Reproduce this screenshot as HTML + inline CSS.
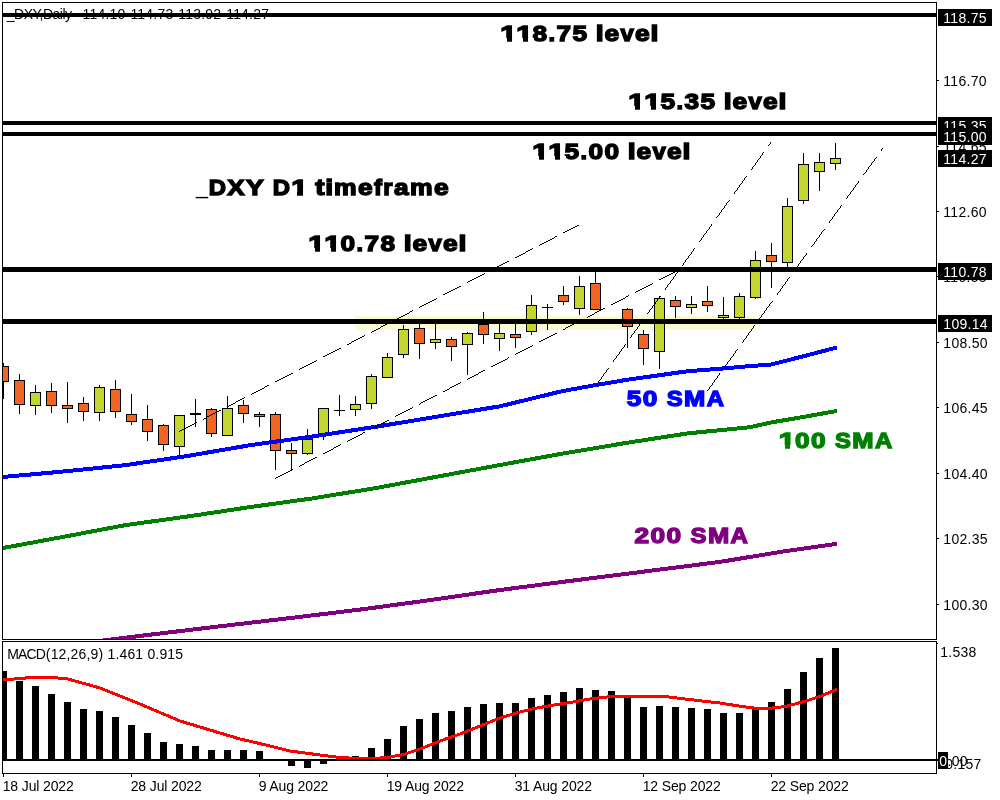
<!DOCTYPE html>
<html lang="en"><head><meta charset="utf-8"><title>_DXY Daily chart</title>
<style>html,body{margin:0;padding:0;background:#fff;overflow:hidden}svg{display:block}text{font-family:"Liberation Sans",sans-serif;font-size:14px;fill:#000;white-space:pre}.c rect,.m rect,.f rect,.f line{shape-rendering:crispEdges}.big{font-family:"Liberation Sans",sans-serif;font-weight:bold;font-size:22.6px;stroke-width:1.4px;stroke-linejoin:miter}.w{fill:#fff}</style></head><body>
<svg width="1000" height="800" viewBox="0 0 1000 800">
<rect width="1000" height="800" fill="#fff"/>
<defs><clipPath id="cm"><rect x="3" y="3" width="933" height="636"/></clipPath><clipPath id="cd"><rect x="3" y="642" width="933" height="131"/></clipPath></defs>
<g clip-path="url(#cm)">
<rect x="355" y="316" width="400" height="14" fill="#FAFAD2" shape-rendering="crispEdges"/>
<text y="19"><tspan x="6.8" letter-spacing="-.5">_DXY,Daily</tspan>  <tspan x="82.6" letter-spacing=".2">114.10</tspan> <tspan x="130.4" letter-spacing=".2">114.73</tspan> <tspan x="178.3" letter-spacing=".2">113.92</tspan> <tspan x="226.2" letter-spacing=".2">114.27</tspan></text>
<g class="c">
<rect x="3" y="363" width="1" height="36" fill="#000"/>
<rect x="-2" y="366" width="11" height="16" fill="#000"/>
<rect x="-1" y="367" width="9" height="14" fill="#F16421"/>
<rect x="19" y="374" width="1" height="40" fill="#000"/>
<rect x="14" y="380" width="11" height="25" fill="#000"/>
<rect x="15" y="381" width="9" height="23" fill="#F16421"/>
<rect x="35" y="385" width="1" height="30" fill="#000"/>
<rect x="30" y="392" width="11" height="14" fill="#000"/>
<rect x="31" y="393" width="9" height="12" fill="#C3D62D"/>
<rect x="51" y="383" width="1" height="30" fill="#000"/>
<rect x="46" y="391" width="11" height="15" fill="#000"/>
<rect x="47" y="392" width="9" height="13" fill="#F16421"/>
<rect x="67" y="382" width="1" height="41" fill="#000"/>
<rect x="62" y="405" width="11" height="4" fill="#000"/>
<rect x="63" y="406" width="9" height="2" fill="#F16421"/>
<rect x="83" y="397" width="1" height="24" fill="#000"/>
<rect x="78" y="403" width="11" height="9" fill="#000"/>
<rect x="79" y="404" width="9" height="7" fill="#F16421"/>
<rect x="99" y="385" width="1" height="36" fill="#000"/>
<rect x="94" y="387" width="11" height="26" fill="#000"/>
<rect x="95" y="388" width="9" height="24" fill="#C3D62D"/>
<rect x="115" y="380" width="1" height="38" fill="#000"/>
<rect x="110" y="389" width="11" height="23" fill="#000"/>
<rect x="111" y="390" width="9" height="21" fill="#F16421"/>
<rect x="131" y="394" width="1" height="31" fill="#000"/>
<rect x="126" y="414" width="11" height="8" fill="#000"/>
<rect x="127" y="415" width="9" height="6" fill="#F16421"/>
<rect x="147" y="405" width="1" height="36" fill="#000"/>
<rect x="142" y="419" width="11" height="13" fill="#000"/>
<rect x="143" y="420" width="9" height="11" fill="#F16421"/>
<rect x="163" y="424" width="1" height="27" fill="#000"/>
<rect x="158" y="425" width="11" height="20" fill="#000"/>
<rect x="159" y="426" width="9" height="18" fill="#F16421"/>
<rect x="179" y="415" width="1" height="40" fill="#000"/>
<rect x="174" y="415" width="11" height="32" fill="#000"/>
<rect x="175" y="416" width="9" height="30" fill="#C3D62D"/>
<rect x="195" y="399" width="1" height="28" fill="#000"/>
<rect x="190" y="413" width="11" height="2" fill="#000"/>
<rect x="211" y="408" width="1" height="29" fill="#000"/>
<rect x="206" y="409" width="11" height="25" fill="#000"/>
<rect x="207" y="410" width="9" height="23" fill="#F16421"/>
<rect x="227" y="396" width="1" height="40" fill="#000"/>
<rect x="222" y="408" width="11" height="28" fill="#000"/>
<rect x="223" y="409" width="9" height="26" fill="#C3D62D"/>
<rect x="243" y="400" width="1" height="23" fill="#000"/>
<rect x="238" y="405" width="11" height="9" fill="#000"/>
<rect x="239" y="406" width="9" height="7" fill="#F16421"/>
<rect x="259" y="412" width="1" height="15" fill="#000"/>
<rect x="254" y="414" width="11" height="3" fill="#000"/>
<rect x="255" y="415" width="9" height="1" fill="#F16421"/>
<rect x="275" y="412" width="1" height="58" fill="#000"/>
<rect x="270" y="414" width="11" height="37" fill="#000"/>
<rect x="271" y="415" width="9" height="35" fill="#F16421"/>
<rect x="291" y="443" width="1" height="27" fill="#000"/>
<rect x="286" y="450" width="11" height="4" fill="#000"/>
<rect x="287" y="451" width="9" height="2" fill="#F16421"/>
<rect x="307" y="429" width="1" height="26" fill="#000"/>
<rect x="302" y="439" width="11" height="15" fill="#000"/>
<rect x="303" y="440" width="9" height="13" fill="#C3D62D"/>
<rect x="323" y="408" width="1" height="32" fill="#000"/>
<rect x="318" y="408" width="11" height="27" fill="#000"/>
<rect x="319" y="409" width="9" height="25" fill="#C3D62D"/>
<rect x="339" y="395" width="1" height="21" fill="#000"/>
<rect x="334" y="410" width="11" height="1" fill="#000"/>
<rect x="355" y="396" width="1" height="20" fill="#000"/>
<rect x="350" y="404" width="11" height="6" fill="#000"/>
<rect x="351" y="405" width="9" height="4" fill="#C3D62D"/>
<rect x="371" y="374" width="1" height="35" fill="#000"/>
<rect x="366" y="376" width="11" height="28" fill="#000"/>
<rect x="367" y="377" width="9" height="26" fill="#C3D62D"/>
<rect x="387" y="353" width="1" height="25" fill="#000"/>
<rect x="382" y="357" width="11" height="21" fill="#000"/>
<rect x="383" y="358" width="9" height="19" fill="#C3D62D"/>
<rect x="403" y="325" width="1" height="33" fill="#000"/>
<rect x="398" y="329" width="11" height="26" fill="#000"/>
<rect x="399" y="330" width="9" height="24" fill="#C3D62D"/>
<rect x="419" y="324" width="1" height="35" fill="#000"/>
<rect x="414" y="328" width="11" height="16" fill="#000"/>
<rect x="415" y="329" width="9" height="14" fill="#F16421"/>
<rect x="435" y="324" width="1" height="25" fill="#000"/>
<rect x="430" y="339" width="11" height="4" fill="#000"/>
<rect x="431" y="340" width="9" height="2" fill="#C3D62D"/>
<rect x="451" y="337" width="1" height="24" fill="#000"/>
<rect x="446" y="339" width="11" height="8" fill="#000"/>
<rect x="447" y="340" width="9" height="6" fill="#F16421"/>
<rect x="467" y="332" width="1" height="43" fill="#000"/>
<rect x="462" y="333" width="11" height="12" fill="#000"/>
<rect x="463" y="334" width="9" height="10" fill="#C3D62D"/>
<rect x="483" y="312" width="1" height="32" fill="#000"/>
<rect x="478" y="324" width="11" height="11" fill="#000"/>
<rect x="479" y="325" width="9" height="9" fill="#F16421"/>
<rect x="499" y="324" width="1" height="27" fill="#000"/>
<rect x="494" y="333" width="11" height="6" fill="#000"/>
<rect x="495" y="334" width="9" height="4" fill="#C3D62D"/>
<rect x="515" y="324" width="1" height="24" fill="#000"/>
<rect x="510" y="334" width="11" height="4" fill="#000"/>
<rect x="511" y="335" width="9" height="2" fill="#F16421"/>
<rect x="531" y="295" width="1" height="40" fill="#000"/>
<rect x="526" y="305" width="11" height="27" fill="#000"/>
<rect x="527" y="306" width="9" height="25" fill="#C3D62D"/>
<rect x="547" y="304" width="1" height="26" fill="#000"/>
<rect x="542" y="307" width="11" height="1" fill="#000"/>
<rect x="563" y="286" width="1" height="19" fill="#000"/>
<rect x="558" y="295" width="11" height="7" fill="#000"/>
<rect x="559" y="296" width="9" height="5" fill="#F16421"/>
<rect x="579" y="276" width="1" height="39" fill="#000"/>
<rect x="574" y="286" width="11" height="23" fill="#000"/>
<rect x="575" y="287" width="9" height="21" fill="#C3D62D"/>
<rect x="595" y="272" width="1" height="38" fill="#000"/>
<rect x="590" y="283" width="11" height="27" fill="#000"/>
<rect x="591" y="284" width="9" height="25" fill="#F16421"/>
<rect x="627" y="308" width="1" height="40" fill="#000"/>
<rect x="622" y="309" width="11" height="18" fill="#000"/>
<rect x="623" y="310" width="9" height="16" fill="#F16421"/>
<rect x="643" y="330" width="1" height="35" fill="#000"/>
<rect x="638" y="334" width="11" height="15" fill="#000"/>
<rect x="639" y="335" width="9" height="13" fill="#F16421"/>
<rect x="659" y="296" width="1" height="73" fill="#000"/>
<rect x="654" y="298" width="11" height="54" fill="#000"/>
<rect x="655" y="299" width="9" height="52" fill="#C3D62D"/>
<rect x="675" y="296" width="1" height="22" fill="#000"/>
<rect x="670" y="300" width="11" height="7" fill="#000"/>
<rect x="671" y="301" width="9" height="5" fill="#F16421"/>
<rect x="691" y="296" width="1" height="18" fill="#000"/>
<rect x="686" y="304" width="11" height="4" fill="#000"/>
<rect x="687" y="305" width="9" height="2" fill="#C3D62D"/>
<rect x="707" y="286" width="1" height="26" fill="#000"/>
<rect x="702" y="301" width="11" height="5" fill="#000"/>
<rect x="703" y="302" width="9" height="3" fill="#F16421"/>
<rect x="723" y="297" width="1" height="22" fill="#000"/>
<rect x="718" y="315" width="11" height="3" fill="#000"/>
<rect x="719" y="316" width="9" height="1" fill="#C3D62D"/>
<rect x="739" y="293" width="1" height="26" fill="#000"/>
<rect x="734" y="296" width="11" height="22" fill="#000"/>
<rect x="735" y="297" width="9" height="20" fill="#C3D62D"/>
<rect x="755" y="251" width="1" height="48" fill="#000"/>
<rect x="750" y="260" width="11" height="38" fill="#000"/>
<rect x="751" y="261" width="9" height="36" fill="#C3D62D"/>
<rect x="771" y="243" width="1" height="45" fill="#000"/>
<rect x="766" y="255" width="11" height="7" fill="#000"/>
<rect x="767" y="256" width="9" height="5" fill="#F16421"/>
<rect x="787" y="198" width="1" height="69" fill="#000"/>
<rect x="782" y="206" width="11" height="57" fill="#000"/>
<rect x="783" y="207" width="9" height="55" fill="#C3D62D"/>
<rect x="803" y="153" width="1" height="51" fill="#000"/>
<rect x="798" y="164" width="11" height="37" fill="#000"/>
<rect x="799" y="165" width="9" height="35" fill="#C3D62D"/>
<rect x="819" y="153" width="1" height="38" fill="#000"/>
<rect x="814" y="162" width="11" height="10" fill="#000"/>
<rect x="815" y="163" width="9" height="8" fill="#C3D62D"/>
<rect x="835" y="143" width="1" height="27" fill="#000"/>
<rect x="830" y="158" width="11" height="6" fill="#000"/>
<rect x="831" y="159" width="9" height="4" fill="#C3D62D"/>
</g>
<polyline points="3,477 62.5,471.6 125,465.2 187.5,456 250,445.2 312.5,436.5 375,426.9 437.5,416.6 500,406.3 562.5,391.1 595,385.2 625,380.1 687.5,371.25 723.75,368.4 750,366.1 771.25,364.5 797.5,357.8 835,348" fill="none" stroke="#0000FF" stroke-width="4" stroke-linejoin="round" stroke-linecap="square" shape-rendering="crispEdges"/>
<polyline points="3,548 62.5,537 125,525.2 187.5,516.5 250,507.1 312.5,498.4 375,488.2 437.5,476.6 500,465 562.5,453.6 625,443.1 687.5,433.4 750,427.2 771.25,422.4 797.5,418 835,411.3" fill="none" stroke="#008000" stroke-width="4" stroke-linejoin="round" stroke-linecap="square" shape-rendering="crispEdges"/>
<polyline points="3,653 99.4,641 152.5,634.4 215,626.9 300,616.9 362.5,609.25 425,600.8 500,590 562.5,581.9 625,574 720,561.9 782.5,551.6 835,544.1" fill="none" stroke="#800080" stroke-width="4" stroke-linejoin="round" stroke-linecap="square" shape-rendering="crispEdges"/>
<path d="M179 431.5h1M180 430.5h2M182 429.5h2M184 428.5h2M186 427.5h2M188 426.5h2M190 425.5h2M192 424.5h2M194 423.5h2M196 422.5h1M203 419.5h1M204 418.5h2M206 417.5h1M207 416.5h2M209 415.5h2M211 414.5h2M213 413.5h2M215 412.5h2M217 411.5h2M219 410.5h2M227 406.5h2M229 405.5h2M231 404.5h2M233 403.5h2M235 402.5h1M236 401.5h2M238 400.5h2M240 399.5h2M242 398.5h2M244 397.5h1M251 394.5h1M252 393.5h2M254 392.5h2M256 391.5h2M258 390.5h2M260 389.5h2M262 388.5h2M264 387.5h1M265 386.5h2M267 385.5h2M275 381.5h2M277 380.5h2M279 379.5h2M281 378.5h2M283 377.5h2M285 376.5h2M287 375.5h2M289 374.5h2M291 373.5h2M299 369.5h1M300 368.5h2M302 367.5h2M304 366.5h2M306 365.5h2M308 364.5h2M310 363.5h2M312 362.5h2M314 361.5h2M316 360.5h1M323 356.5h2M325 355.5h2M327 354.5h2M329 353.5h2M331 352.5h2M333 351.5h2M335 350.5h2M337 349.5h2M339 348.5h2M347 344.5h2M349 343.5h2M351 342.5h1M352 341.5h2M354 340.5h2M356 339.5h2M358 338.5h2M360 337.5h2M362 336.5h2M364 335.5h1M371 332.5h1M372 331.5h2M374 330.5h2M376 329.5h2M378 328.5h2M380 327.5h1M381 326.5h2M383 325.5h2M385 324.5h2M387 323.5h2M395 319.5h2M397 318.5h2M399 317.5h2M401 316.5h2M403 315.5h2M405 314.5h2M407 313.5h2M409 312.5h1M410 311.5h2M412 310.5h1M419 307.5h1M420 306.5h2M422 305.5h2M424 304.5h2M426 303.5h2M428 302.5h2M430 301.5h2M432 300.5h2M434 299.5h2M436 298.5h1M443 294.5h2M445 293.5h2M447 292.5h2M449 291.5h2M451 290.5h2M453 289.5h2M455 288.5h2M457 287.5h2M459 286.5h2M467 282.5h1M468 281.5h2M470 280.5h2M472 279.5h2M474 278.5h2M476 277.5h2M478 276.5h2M480 275.5h2M482 274.5h2M484 273.5h1M491 270.5h1M492 269.5h2M494 268.5h2M496 267.5h1M497 266.5h2M499 265.5h2M501 264.5h2M503 263.5h2M505 262.5h2M507 261.5h2M515 257.5h2M517 256.5h2M519 255.5h2M521 254.5h2M523 253.5h2M525 252.5h1M526 251.5h2M528 250.5h2M530 249.5h2M532 248.5h1M539 245.5h1M540 244.5h2M542 243.5h2M544 242.5h2M546 241.5h2M548 240.5h2M550 239.5h2M552 238.5h2M554 237.5h1M555 236.5h2M563 232.5h2M565 231.5h2M567 230.5h2M569 229.5h2M571 228.5h2M573 227.5h2M575 226.5h2M577 225.5h2" fill="none" stroke="#000" stroke-width="1" shape-rendering="crispEdges"/>
<path d="M275 478.5h1M276 477.5h2M278 476.5h2M280 475.5h2M282 474.5h2M284 473.5h2M286 472.5h2M288 471.5h2M290 470.5h2M292 469.5h1M299 466.5h1M300 465.5h2M302 464.5h2M304 463.5h1M305 462.5h2M307 461.5h2M309 460.5h2M311 459.5h2M313 458.5h2M315 457.5h2M323 453.5h2M325 452.5h2M327 451.5h2M329 450.5h2M331 449.5h2M333 448.5h1M334 447.5h2M336 446.5h2M338 445.5h2M340 444.5h1M347 441.5h1M348 440.5h2M350 439.5h2M352 438.5h2M354 437.5h2M356 436.5h2M358 435.5h2M360 434.5h2M362 433.5h1M363 432.5h2M371 428.5h2M373 427.5h2M375 426.5h2M377 425.5h2M379 424.5h2M381 423.5h2M383 422.5h2M385 421.5h2M387 420.5h2M395 416.5h1M396 415.5h2M398 414.5h2M400 413.5h2M402 412.5h2M404 411.5h2M406 410.5h2M408 409.5h2M410 408.5h2M412 407.5h1M419 404.5h1M420 403.5h1M421 402.5h2M423 401.5h2M425 400.5h2M427 399.5h2M429 398.5h2M431 397.5h2M433 396.5h2M435 395.5h2M443 391.5h2M445 390.5h2M447 389.5h2M449 388.5h1M450 387.5h2M452 386.5h2M454 385.5h2M456 384.5h2M458 383.5h2M460 382.5h1M467 379.5h1M468 378.5h2M470 377.5h2M472 376.5h2M474 375.5h2M476 374.5h2M478 373.5h1M479 372.5h2M481 371.5h2M483 370.5h2M491 366.5h2M493 365.5h2M495 364.5h2M497 363.5h2M499 362.5h2M501 361.5h2M503 360.5h2M505 359.5h2M507 358.5h1M508 357.5h1M515 354.5h1M516 353.5h2M518 352.5h2M520 351.5h2M522 350.5h2M524 349.5h2M526 348.5h2M528 347.5h2M530 346.5h2M532 345.5h1M539 341.5h2M541 340.5h2M543 339.5h2M545 338.5h2M547 337.5h2M549 336.5h2M551 335.5h2M553 334.5h2M555 333.5h2M563 329.5h2M565 328.5h1M566 327.5h2M568 326.5h2M570 325.5h2M572 324.5h2M574 323.5h2M576 322.5h2M578 321.5h2M580 320.5h1M587 317.5h1M588 316.5h2M590 315.5h2M592 314.5h2M594 313.5h1M595 312.5h2M597 311.5h2M599 310.5h2M601 309.5h2M603 308.5h2M611 304.5h2M613 303.5h2M615 302.5h2M617 301.5h2M619 300.5h2M621 299.5h2M623 298.5h2M625 297.5h1M626 296.5h2M628 295.5h1M635 292.5h1M636 291.5h2M638 290.5h2M640 289.5h2M642 288.5h2M644 287.5h2M646 286.5h2M648 285.5h2M650 284.5h2M652 283.5h1M659 279.5h2M661 278.5h2M663 277.5h2M665 276.5h2M667 275.5h2M669 274.5h2M671 273.5h2M673 272.5h2M675 271.5h2" fill="none" stroke="#000" stroke-width="1" shape-rendering="crispEdges"/>
<path d="M596.5 386v-2M597.5 384v-1M598.5 383v-2M599.5 381v-1M600.5 380v-1M601.5 379v-2M602.5 377v-1M603.5 376v-2M604.5 374v-1M605.5 373v-1M606.5 372v-2M607.5 370v-1M608.5 369v-1M613.5 362v-2M614.5 360v-1M615.5 359v-1M616.5 358v-2M617.5 356v-1M618.5 355v-1M619.5 354v-2M620.5 352v-1M621.5 351v-2M622.5 349v-1M623.5 348v-1M624.5 347v-2M625.5 345v-1M630.5 338v-1M631.5 337v-2M632.5 335v-1M633.5 334v-1M634.5 333v-2M635.5 331v-1M636.5 330v-1M637.5 329v-2M638.5 327v-1M639.5 326v-2M640.5 324v-1M641.5 323v-1M642.5 322v-2M647.5 314v-1M648.5 313v-1M649.5 312v-2M650.5 310v-1M651.5 309v-1M652.5 308v-2M653.5 306v-1M654.5 305v-1M655.5 304v-2M656.5 302v-1M657.5 301v-2M658.5 299v-1M659.5 298v-1M660.5 297v-1M665.5 290v-2M666.5 288v-1M667.5 287v-2M668.5 285v-1M669.5 284v-1M670.5 283v-2M671.5 281v-1M672.5 280v-1M673.5 279v-2M674.5 277v-1M675.5 276v-2M676.5 274v-1M677.5 273v-1M682.5 266v-1M683.5 265v-2M684.5 263v-1M685.5 262v-2M686.5 260v-1M687.5 259v-1M688.5 258v-2M689.5 256v-1M690.5 255v-1M691.5 254v-2M692.5 252v-1M693.5 251v-2M694.5 249v-1M699.5 242v-1M700.5 241v-1M701.5 240v-2M702.5 238v-1M703.5 237v-2M704.5 235v-1M705.5 234v-1M706.5 233v-2M707.5 231v-1M708.5 230v-1M709.5 229v-2M710.5 227v-1M711.5 226v-2M716.5 218v-1M717.5 217v-1M718.5 216v-1M719.5 215v-2M720.5 213v-1M721.5 212v-2M722.5 210v-1M723.5 209v-1M724.5 208v-2M725.5 206v-1M726.5 205v-2M727.5 203v-1M728.5 202v-1M729.5 201v-1M734.5 194v-2M735.5 192v-1M736.5 191v-1M737.5 190v-2M738.5 188v-1M739.5 187v-2M740.5 185v-1M741.5 184v-1M742.5 183v-2M743.5 181v-1M744.5 180v-2M745.5 178v-1M746.5 177v-1M751.5 170v-1M752.5 169v-2M753.5 167v-1M754.5 166v-1M755.5 165v-2M756.5 163v-1M757.5 162v-2M758.5 160v-1M759.5 159v-1M760.5 158v-2M761.5 156v-1M762.5 155v-2M763.5 153v-1M768.5 146v-1M769.5 145v-1M770.5 144v-2" fill="none" stroke="#000" stroke-width="1" shape-rendering="crispEdges"/>
<path d="M707.5 391v-1M708.5 390v-1M709.5 389v-2M710.5 387v-1M711.5 386v-1M712.5 385v-2M713.5 383v-1M714.5 382v-2M715.5 380v-1M716.5 379v-1M717.5 378v-2M718.5 376v-1M719.5 375v-2M725.5 367v-2M726.5 365v-1M727.5 364v-2M728.5 362v-1M729.5 361v-1M730.5 360v-2M731.5 358v-1M732.5 357v-1M733.5 356v-2M734.5 354v-1M735.5 353v-2M736.5 351v-1M737.5 350v-1M742.5 343v-1M743.5 342v-2M744.5 340v-1M745.5 339v-1M746.5 338v-2M747.5 336v-1M748.5 335v-2M749.5 333v-1M750.5 332v-1M751.5 331v-2M752.5 329v-1M753.5 328v-2M754.5 326v-1M759.5 319v-1M760.5 318v-1M761.5 317v-2M762.5 315v-1M763.5 314v-1M764.5 313v-2M765.5 311v-1M766.5 310v-2M767.5 308v-1M768.5 307v-1M769.5 306v-2M770.5 304v-1M771.5 303v-1M772.5 302v-1M777.5 295v-2M778.5 293v-1M779.5 292v-1M780.5 291v-2M781.5 289v-1M782.5 288v-2M783.5 286v-1M784.5 285v-1M785.5 284v-2M786.5 282v-1M787.5 281v-2M788.5 279v-1M789.5 278v-1M794.5 271v-1M795.5 270v-2M796.5 268v-1M797.5 267v-1M798.5 266v-2M799.5 264v-1M800.5 263v-2M801.5 261v-1M802.5 260v-1M803.5 259v-2M804.5 257v-1M805.5 256v-1M806.5 255v-2M811.5 247v-1M812.5 246v-1M813.5 245v-1M814.5 244v-2M815.5 242v-1M816.5 241v-2M817.5 239v-1M818.5 238v-1M819.5 237v-2M820.5 235v-1M821.5 234v-2M822.5 232v-1M823.5 231v-1M824.5 230v-1M829.5 223v-2M830.5 221v-1M831.5 220v-1M832.5 219v-2M833.5 217v-1M834.5 216v-2M835.5 214v-1M836.5 213v-1M837.5 212v-2M838.5 210v-1M839.5 209v-1M840.5 208v-2M841.5 206v-1M846.5 199v-1M847.5 198v-2M848.5 196v-1M849.5 195v-1M850.5 194v-2M851.5 192v-1M852.5 191v-1M853.5 190v-2M854.5 188v-1M855.5 187v-2M856.5 185v-1M857.5 184v-1M858.5 183v-2M863.5 175v-1M864.5 174v-1M865.5 173v-1M866.5 172v-2M867.5 170v-1M868.5 169v-2M869.5 167v-1M870.5 166v-1M871.5 165v-2M872.5 163v-1M873.5 162v-1M874.5 161v-2M875.5 159v-1M876.5 158v-1M881.5 151v-2M882.5 149v-1" fill="none" stroke="#000" stroke-width="1" shape-rendering="crispEdges"/>
<g class="f">
<rect x="3" y="13" width="934" height="4" fill="#000"/>
<rect x="3" y="121" width="934" height="4" fill="#000"/>
<rect x="3" y="132" width="934" height="4" fill="#000"/>
<rect x="3" y="267" width="934" height="5" fill="#000"/>
<rect x="3" y="319" width="934" height="5" fill="#000"/>
</g>
<mask id="cl" maskUnits="userSpaceOnUse" x="0" y="0" width="1000" height="800"><rect width="1000" height="800" fill="#fff"/><g fill="#000" shape-rendering="crispEdges"><rect x="499.35" y="37.59" width="7.16" height="4.91"/><rect x="511.94" y="37.59" width="5.75" height="4.91"/><rect x="515.36" y="37.59" width="7.16" height="4.91"/><rect x="527.95" y="37.59" width="5.75" height="4.91"/><rect x="627.35" y="105.59" width="7.16" height="4.91"/><rect x="639.94" y="105.59" width="5.75" height="4.91"/><rect x="643.36" y="105.59" width="7.16" height="4.91"/><rect x="655.95" y="105.59" width="5.75" height="4.91"/><rect x="531.35" y="155.59" width="7.16" height="4.91"/><rect x="543.94" y="155.59" width="5.75" height="4.91"/><rect x="547.36" y="155.59" width="7.16" height="4.91"/><rect x="559.95" y="155.59" width="5.75" height="4.91"/><rect x="290.28" y="191.59" width="7.16" height="4.91"/><rect x="302.87" y="191.59" width="5.75" height="4.91"/><rect x="307.35" y="247.59" width="7.16" height="4.91"/><rect x="319.94" y="247.59" width="5.75" height="4.91"/><rect x="323.36" y="247.59" width="7.16" height="4.91"/><rect x="335.95" y="247.59" width="5.75" height="4.91"/><rect x="777.80" y="444.59" width="7.16" height="4.91"/><rect x="790.39" y="444.59" width="5.75" height="4.91"/></g></mask>
<g mask="url(#cl)">
<text class="big" style="fill:#000;stroke:#000"><tspan x="500.35" y="41.00" textLength="16.34" lengthAdjust="spacingAndGlyphs">1</tspan><tspan x="516.36" y="41.00" textLength="16.34" lengthAdjust="spacingAndGlyphs">1</tspan><tspan x="532.47" y="41.00" textLength="14.61" lengthAdjust="spacingAndGlyphs">8</tspan><tspan x="548.47" y="41.00" textLength="6.59" lengthAdjust="spacingAndGlyphs">.</tspan><tspan x="556.47" y="41.00" textLength="14.61" lengthAdjust="spacingAndGlyphs">7</tspan><tspan x="572.47" y="41.00" textLength="14.61" lengthAdjust="spacingAndGlyphs">5</tspan> <tspan x="595.81" y="41.00" textLength="7.91" lengthAdjust="spacingAndGlyphs">l</tspan><tspan x="604.47" y="41.00" textLength="14.61" lengthAdjust="spacingAndGlyphs">e</tspan><tspan x="620.47" y="41.00" textLength="13.26" lengthAdjust="spacingAndGlyphs">v</tspan><tspan x="635.14" y="41.00" textLength="14.61" lengthAdjust="spacingAndGlyphs">e</tspan><tspan x="650.49" y="41.00" textLength="7.91" lengthAdjust="spacingAndGlyphs">l</tspan></text>
<text class="big" style="fill:#000;stroke:#000"><tspan x="628.35" y="109.00" textLength="16.34" lengthAdjust="spacingAndGlyphs">1</tspan><tspan x="644.36" y="109.00" textLength="16.34" lengthAdjust="spacingAndGlyphs">1</tspan><tspan x="660.47" y="109.00" textLength="14.61" lengthAdjust="spacingAndGlyphs">5</tspan><tspan x="676.47" y="109.00" textLength="6.59" lengthAdjust="spacingAndGlyphs">.</tspan><tspan x="684.47" y="109.00" textLength="14.61" lengthAdjust="spacingAndGlyphs">3</tspan><tspan x="700.47" y="109.00" textLength="14.61" lengthAdjust="spacingAndGlyphs">5</tspan> <tspan x="723.81" y="109.00" textLength="7.91" lengthAdjust="spacingAndGlyphs">l</tspan><tspan x="732.47" y="109.00" textLength="14.61" lengthAdjust="spacingAndGlyphs">e</tspan><tspan x="748.47" y="109.00" textLength="13.26" lengthAdjust="spacingAndGlyphs">v</tspan><tspan x="763.14" y="109.00" textLength="14.61" lengthAdjust="spacingAndGlyphs">e</tspan><tspan x="778.49" y="109.00" textLength="7.91" lengthAdjust="spacingAndGlyphs">l</tspan></text>
<text class="big" style="fill:#000;stroke:#000"><tspan x="532.35" y="159.00" textLength="16.34" lengthAdjust="spacingAndGlyphs">1</tspan><tspan x="548.36" y="159.00" textLength="16.34" lengthAdjust="spacingAndGlyphs">1</tspan><tspan x="564.47" y="159.00" textLength="14.61" lengthAdjust="spacingAndGlyphs">5</tspan><tspan x="580.47" y="159.00" textLength="6.59" lengthAdjust="spacingAndGlyphs">.</tspan><tspan x="588.47" y="159.00" textLength="14.61" lengthAdjust="spacingAndGlyphs">0</tspan><tspan x="604.47" y="159.00" textLength="14.61" lengthAdjust="spacingAndGlyphs">0</tspan> <tspan x="627.81" y="159.00" textLength="7.91" lengthAdjust="spacingAndGlyphs">l</tspan><tspan x="636.47" y="159.00" textLength="14.61" lengthAdjust="spacingAndGlyphs">e</tspan><tspan x="652.47" y="159.00" textLength="13.26" lengthAdjust="spacingAndGlyphs">v</tspan><tspan x="667.14" y="159.00" textLength="14.61" lengthAdjust="spacingAndGlyphs">e</tspan><tspan x="682.49" y="159.00" textLength="7.91" lengthAdjust="spacingAndGlyphs">l</tspan></text>
<text class="big" style="fill:#000;stroke:#000"><tspan x="196.00" y="193.80" textLength="12.00" lengthAdjust="spacingAndGlyphs" stroke="none" font-weight="normal">_</tspan><tspan x="208.70" y="195.00" textLength="17.27" lengthAdjust="spacingAndGlyphs">D</tspan><tspan x="227.37" y="195.00" textLength="17.27" lengthAdjust="spacingAndGlyphs">X</tspan><tspan x="246.04" y="195.00" textLength="17.27" lengthAdjust="spacingAndGlyphs">Y</tspan> <tspan x="272.71" y="195.00" textLength="17.27" lengthAdjust="spacingAndGlyphs">D</tspan><tspan x="291.28" y="195.00" textLength="16.34" lengthAdjust="spacingAndGlyphs">1</tspan> <tspan x="315.38" y="195.00" textLength="9.26" lengthAdjust="spacingAndGlyphs">t</tspan><tspan x="325.38" y="195.00" textLength="7.91" lengthAdjust="spacingAndGlyphs">i</tspan><tspan x="334.03" y="195.00" textLength="22.60" lengthAdjust="spacingAndGlyphs">m</tspan><tspan x="358.03" y="195.00" textLength="14.61" lengthAdjust="spacingAndGlyphs">e</tspan><tspan x="374.04" y="195.00" textLength="7.94" lengthAdjust="spacingAndGlyphs">f</tspan><tspan x="383.37" y="195.00" textLength="9.26" lengthAdjust="spacingAndGlyphs">r</tspan><tspan x="394.03" y="195.00" textLength="14.61" lengthAdjust="spacingAndGlyphs">a</tspan><tspan x="410.04" y="195.00" textLength="22.60" lengthAdjust="spacingAndGlyphs">m</tspan><tspan x="434.04" y="195.00" textLength="14.61" lengthAdjust="spacingAndGlyphs">e</tspan></text>
<text class="big" style="fill:#000;stroke:#000"><tspan x="308.35" y="251.00" textLength="16.34" lengthAdjust="spacingAndGlyphs">1</tspan><tspan x="324.36" y="251.00" textLength="16.34" lengthAdjust="spacingAndGlyphs">1</tspan><tspan x="340.47" y="251.00" textLength="14.61" lengthAdjust="spacingAndGlyphs">0</tspan><tspan x="356.47" y="251.00" textLength="6.59" lengthAdjust="spacingAndGlyphs">.</tspan><tspan x="364.47" y="251.00" textLength="14.61" lengthAdjust="spacingAndGlyphs">7</tspan><tspan x="380.47" y="251.00" textLength="14.61" lengthAdjust="spacingAndGlyphs">8</tspan> <tspan x="403.81" y="251.00" textLength="7.91" lengthAdjust="spacingAndGlyphs">l</tspan><tspan x="412.47" y="251.00" textLength="14.61" lengthAdjust="spacingAndGlyphs">e</tspan><tspan x="428.47" y="251.00" textLength="13.26" lengthAdjust="spacingAndGlyphs">v</tspan><tspan x="443.14" y="251.00" textLength="14.61" lengthAdjust="spacingAndGlyphs">e</tspan><tspan x="458.49" y="251.00" textLength="7.91" lengthAdjust="spacingAndGlyphs">l</tspan></text>
<text class="big" style="fill:#0000FF;stroke:#0000FF"><tspan x="626.70" y="406.00" textLength="14.61" lengthAdjust="spacingAndGlyphs">5</tspan><tspan x="642.71" y="406.00" textLength="14.61" lengthAdjust="spacingAndGlyphs">0</tspan> <tspan x="666.71" y="406.00" textLength="15.93" lengthAdjust="spacingAndGlyphs">S</tspan><tspan x="684.04" y="406.00" textLength="21.26" lengthAdjust="spacingAndGlyphs">M</tspan><tspan x="706.69" y="406.00" textLength="17.27" lengthAdjust="spacingAndGlyphs">A</tspan></text>
<text class="big" style="fill:#008000;stroke:#008000"><tspan x="778.80" y="448.00" textLength="16.34" lengthAdjust="spacingAndGlyphs">1</tspan><tspan x="794.91" y="448.00" textLength="14.61" lengthAdjust="spacingAndGlyphs">0</tspan><tspan x="810.92" y="448.00" textLength="14.61" lengthAdjust="spacingAndGlyphs">0</tspan> <tspan x="834.92" y="448.00" textLength="15.93" lengthAdjust="spacingAndGlyphs">S</tspan><tspan x="852.24" y="448.00" textLength="21.26" lengthAdjust="spacingAndGlyphs">M</tspan><tspan x="874.90" y="448.00" textLength="17.27" lengthAdjust="spacingAndGlyphs">A</tspan></text>
<text class="big" style="fill:#800080;stroke:#800080"><tspan x="634.60" y="543.00" textLength="14.61" lengthAdjust="spacingAndGlyphs">2</tspan><tspan x="650.61" y="543.00" textLength="14.61" lengthAdjust="spacingAndGlyphs">0</tspan><tspan x="666.62" y="543.00" textLength="14.61" lengthAdjust="spacingAndGlyphs">0</tspan> <tspan x="690.62" y="543.00" textLength="15.93" lengthAdjust="spacingAndGlyphs">S</tspan><tspan x="707.94" y="543.00" textLength="21.26" lengthAdjust="spacingAndGlyphs">M</tspan><tspan x="730.60" y="543.00" textLength="17.27" lengthAdjust="spacingAndGlyphs">A</tspan></text>
</g>
</g>
<g clip-path="url(#cd)">
<g class="m">
<rect x="0" y="671" width="7" height="89" fill="#000"/>
<rect x="16" y="681" width="7" height="79" fill="#000"/>
<rect x="32" y="686" width="7" height="74" fill="#000"/>
<rect x="48" y="694" width="7" height="66" fill="#000"/>
<rect x="64" y="702" width="7" height="58" fill="#000"/>
<rect x="80" y="709" width="7" height="51" fill="#000"/>
<rect x="96" y="711" width="7" height="49" fill="#000"/>
<rect x="112" y="717" width="7" height="43" fill="#000"/>
<rect x="128" y="725" width="7" height="35" fill="#000"/>
<rect x="144" y="733" width="7" height="27" fill="#000"/>
<rect x="160" y="742" width="7" height="18" fill="#000"/>
<rect x="176" y="744" width="7" height="16" fill="#000"/>
<rect x="192" y="746" width="7" height="14" fill="#000"/>
<rect x="208" y="750" width="7" height="10" fill="#000"/>
<rect x="224" y="750" width="7" height="10" fill="#000"/>
<rect x="240" y="750" width="7" height="10" fill="#000"/>
<rect x="256" y="751" width="7" height="9" fill="#000"/>
<rect x="288" y="760" width="7" height="6" fill="#000"/>
<rect x="304" y="760" width="7" height="8" fill="#000"/>
<rect x="320" y="760" width="7" height="4" fill="#000"/>
<rect x="352" y="756" width="7" height="4" fill="#000"/>
<rect x="368" y="748" width="7" height="12" fill="#000"/>
<rect x="384" y="739" width="7" height="21" fill="#000"/>
<rect x="400" y="726" width="7" height="34" fill="#000"/>
<rect x="416" y="719" width="7" height="41" fill="#000"/>
<rect x="432" y="713" width="7" height="47" fill="#000"/>
<rect x="448" y="711" width="7" height="49" fill="#000"/>
<rect x="464" y="707" width="7" height="53" fill="#000"/>
<rect x="480" y="704" width="7" height="56" fill="#000"/>
<rect x="496" y="703" width="7" height="57" fill="#000"/>
<rect x="512" y="703" width="7" height="57" fill="#000"/>
<rect x="528" y="698" width="7" height="62" fill="#000"/>
<rect x="544" y="695" width="7" height="65" fill="#000"/>
<rect x="560" y="692" width="7" height="68" fill="#000"/>
<rect x="576" y="688" width="7" height="72" fill="#000"/>
<rect x="592" y="690" width="7" height="70" fill="#000"/>
<rect x="608" y="691" width="7" height="69" fill="#000"/>
<rect x="624" y="697" width="7" height="63" fill="#000"/>
<rect x="640" y="707" width="7" height="53" fill="#000"/>
<rect x="656" y="706" width="7" height="54" fill="#000"/>
<rect x="672" y="707" width="7" height="53" fill="#000"/>
<rect x="688" y="708" width="7" height="52" fill="#000"/>
<rect x="704" y="709" width="7" height="51" fill="#000"/>
<rect x="720" y="713" width="7" height="47" fill="#000"/>
<rect x="736" y="713" width="7" height="47" fill="#000"/>
<rect x="752" y="709" width="7" height="51" fill="#000"/>
<rect x="768" y="702" width="7" height="58" fill="#000"/>
<rect x="784" y="689" width="7" height="71" fill="#000"/>
<rect x="800" y="672" width="7" height="88" fill="#000"/>
<rect x="816" y="658" width="7" height="102" fill="#000"/>
<rect x="832" y="648" width="7" height="112" fill="#000"/>
</g>
<polyline points="3,680 30,677.6 54,677.6 68,679 100,688 140,704 180,721 200,727 210,730 240,739 260,743.6 290,751 320,755 340,757.5 356,758.4 376,758.4 390,757 404,754.4 420,749 440,741 460,734 480,726 500,718 520,712 532,709 550,705.6 570,702.5 590,699 610,696.6 630,696 664,696.4 690,699.6 720,703 740,706.2 754,708 772,708 786,706.4 804,701.6 820,696.4 835.5,690" fill="none" stroke="#FF0000" stroke-width="3" stroke-linejoin="round" stroke-linecap="square" shape-rendering="crispEdges"/>
<rect x="3" y="759" width="933" height="2" fill="#000" shape-rendering="crispEdges"/>
<text y="659"><tspan x="7.3" letter-spacing="-.9">MACD</tspan><tspan letter-spacing=".17" dx=".9">(12,26,9) 1.461 0.915</tspan></text>
</g>
<g class="f" fill="#000">
<rect x="2" y="2" width="935" height="1"/><rect x="2" y="639" width="935" height="1"/><rect x="2" y="2" width="1" height="638"/><rect x="936" y="2" width="1" height="638"/>
<rect x="2" y="641" width="935" height="1"/><rect x="2" y="773" width="935" height="1"/><rect x="2" y="641" width="1" height="133"/><rect x="936" y="641" width="1" height="133"/><rect x="937" y="643" width="1" height="1"/>
<rect x="937" y="80" width="2" height="1"/>
<rect x="937" y="146" width="2" height="1"/>
<rect x="937" y="211" width="2" height="1"/>
<rect x="937" y="276" width="2" height="1"/>
<rect x="937" y="342" width="2" height="1"/>
<rect x="937" y="407" width="2" height="1"/>
<rect x="937" y="473" width="2" height="1"/>
<rect x="937" y="538" width="2" height="1"/>
<rect x="937" y="604" width="2" height="1"/>
<rect x="3" y="774" width="1" height="3"/>
<rect x="131" y="774" width="1" height="3"/>
<rect x="259" y="774" width="1" height="3"/>
<rect x="387" y="774" width="1" height="3"/>
<rect x="515" y="774" width="1" height="3"/>
<rect x="643" y="774" width="1" height="3"/>
<rect x="771" y="774" width="1" height="3"/>
<rect x="936" y="759" width="3" height="2"/>
</g>
<text x="943.3" y="86.0" letter-spacing=".3">116.70</text>
<text x="943.3" y="151.5" letter-spacing=".3">114.65</text>
<text x="943.3" y="216.9" letter-spacing=".3">112.60</text>
<text x="943.3" y="282.4" letter-spacing=".3">110.55</text>
<text x="943.3" y="347.9" letter-spacing=".3">108.50</text>
<text x="943.3" y="413.4" letter-spacing=".3">106.45</text>
<text x="943.3" y="478.8" letter-spacing=".3">104.40</text>
<text x="943.3" y="544.3" letter-spacing=".3">102.35</text>
<text x="943.3" y="609.8" letter-spacing=".3">100.30</text>
<text x="940.3" y="657" letter-spacing=".25">1.538</text>
<text x="940.4" y="769" letter-spacing=".25">-0.157</text>
<rect x="938" y="9" width="54" height="17" fill="#000" shape-rendering="crispEdges"/>
<text class="w" x="943.3" y="23" letter-spacing=".3">118.75</text>
<rect x="938" y="117" width="54" height="17" fill="#000" shape-rendering="crispEdges"/>
<text class="w" x="943.3" y="131" letter-spacing=".3">115.35</text>
<rect x="938" y="128" width="54" height="17" fill="#000" shape-rendering="crispEdges"/>
<text class="w" x="943.3" y="142" letter-spacing=".3">115.00</text>
<rect x="938" y="150" width="54" height="17" fill="#000" shape-rendering="crispEdges"/>
<text class="w" x="943.3" y="164" letter-spacing=".3">114.27</text>
<rect x="938" y="263" width="54" height="17" fill="#000" shape-rendering="crispEdges"/>
<text class="w" x="943.3" y="277" letter-spacing=".3">110.78</text>
<rect x="938" y="315" width="54" height="17" fill="#000" shape-rendering="crispEdges"/>
<text class="w" x="943.3" y="329" letter-spacing=".3">109.14</text>
<rect x="938" y="752" width="10" height="17" fill="#000" shape-rendering="crispEdges"/>
<text x="939.2" y="766" letter-spacing=".4"><tspan class="w">0</tspan>.00</text>
<text x="2.7" y="791" letter-spacing="-.13">18 Jul 2022</text>
<text x="130.7" y="791" letter-spacing="-.13">28 Jul 2022</text>
<text x="258.7" y="791" letter-spacing="-.13">9 Aug 2022</text>
<text x="386.7" y="791" letter-spacing="-.13">19 Aug 2022</text>
<text x="514.7" y="791" letter-spacing="-.13">31 Aug 2022</text>
<text x="642.7" y="791" letter-spacing="-.13">12 Sep 2022</text>
<text x="770.7" y="791" letter-spacing="-.13">22 Sep 2022</text>
</svg></body></html>
